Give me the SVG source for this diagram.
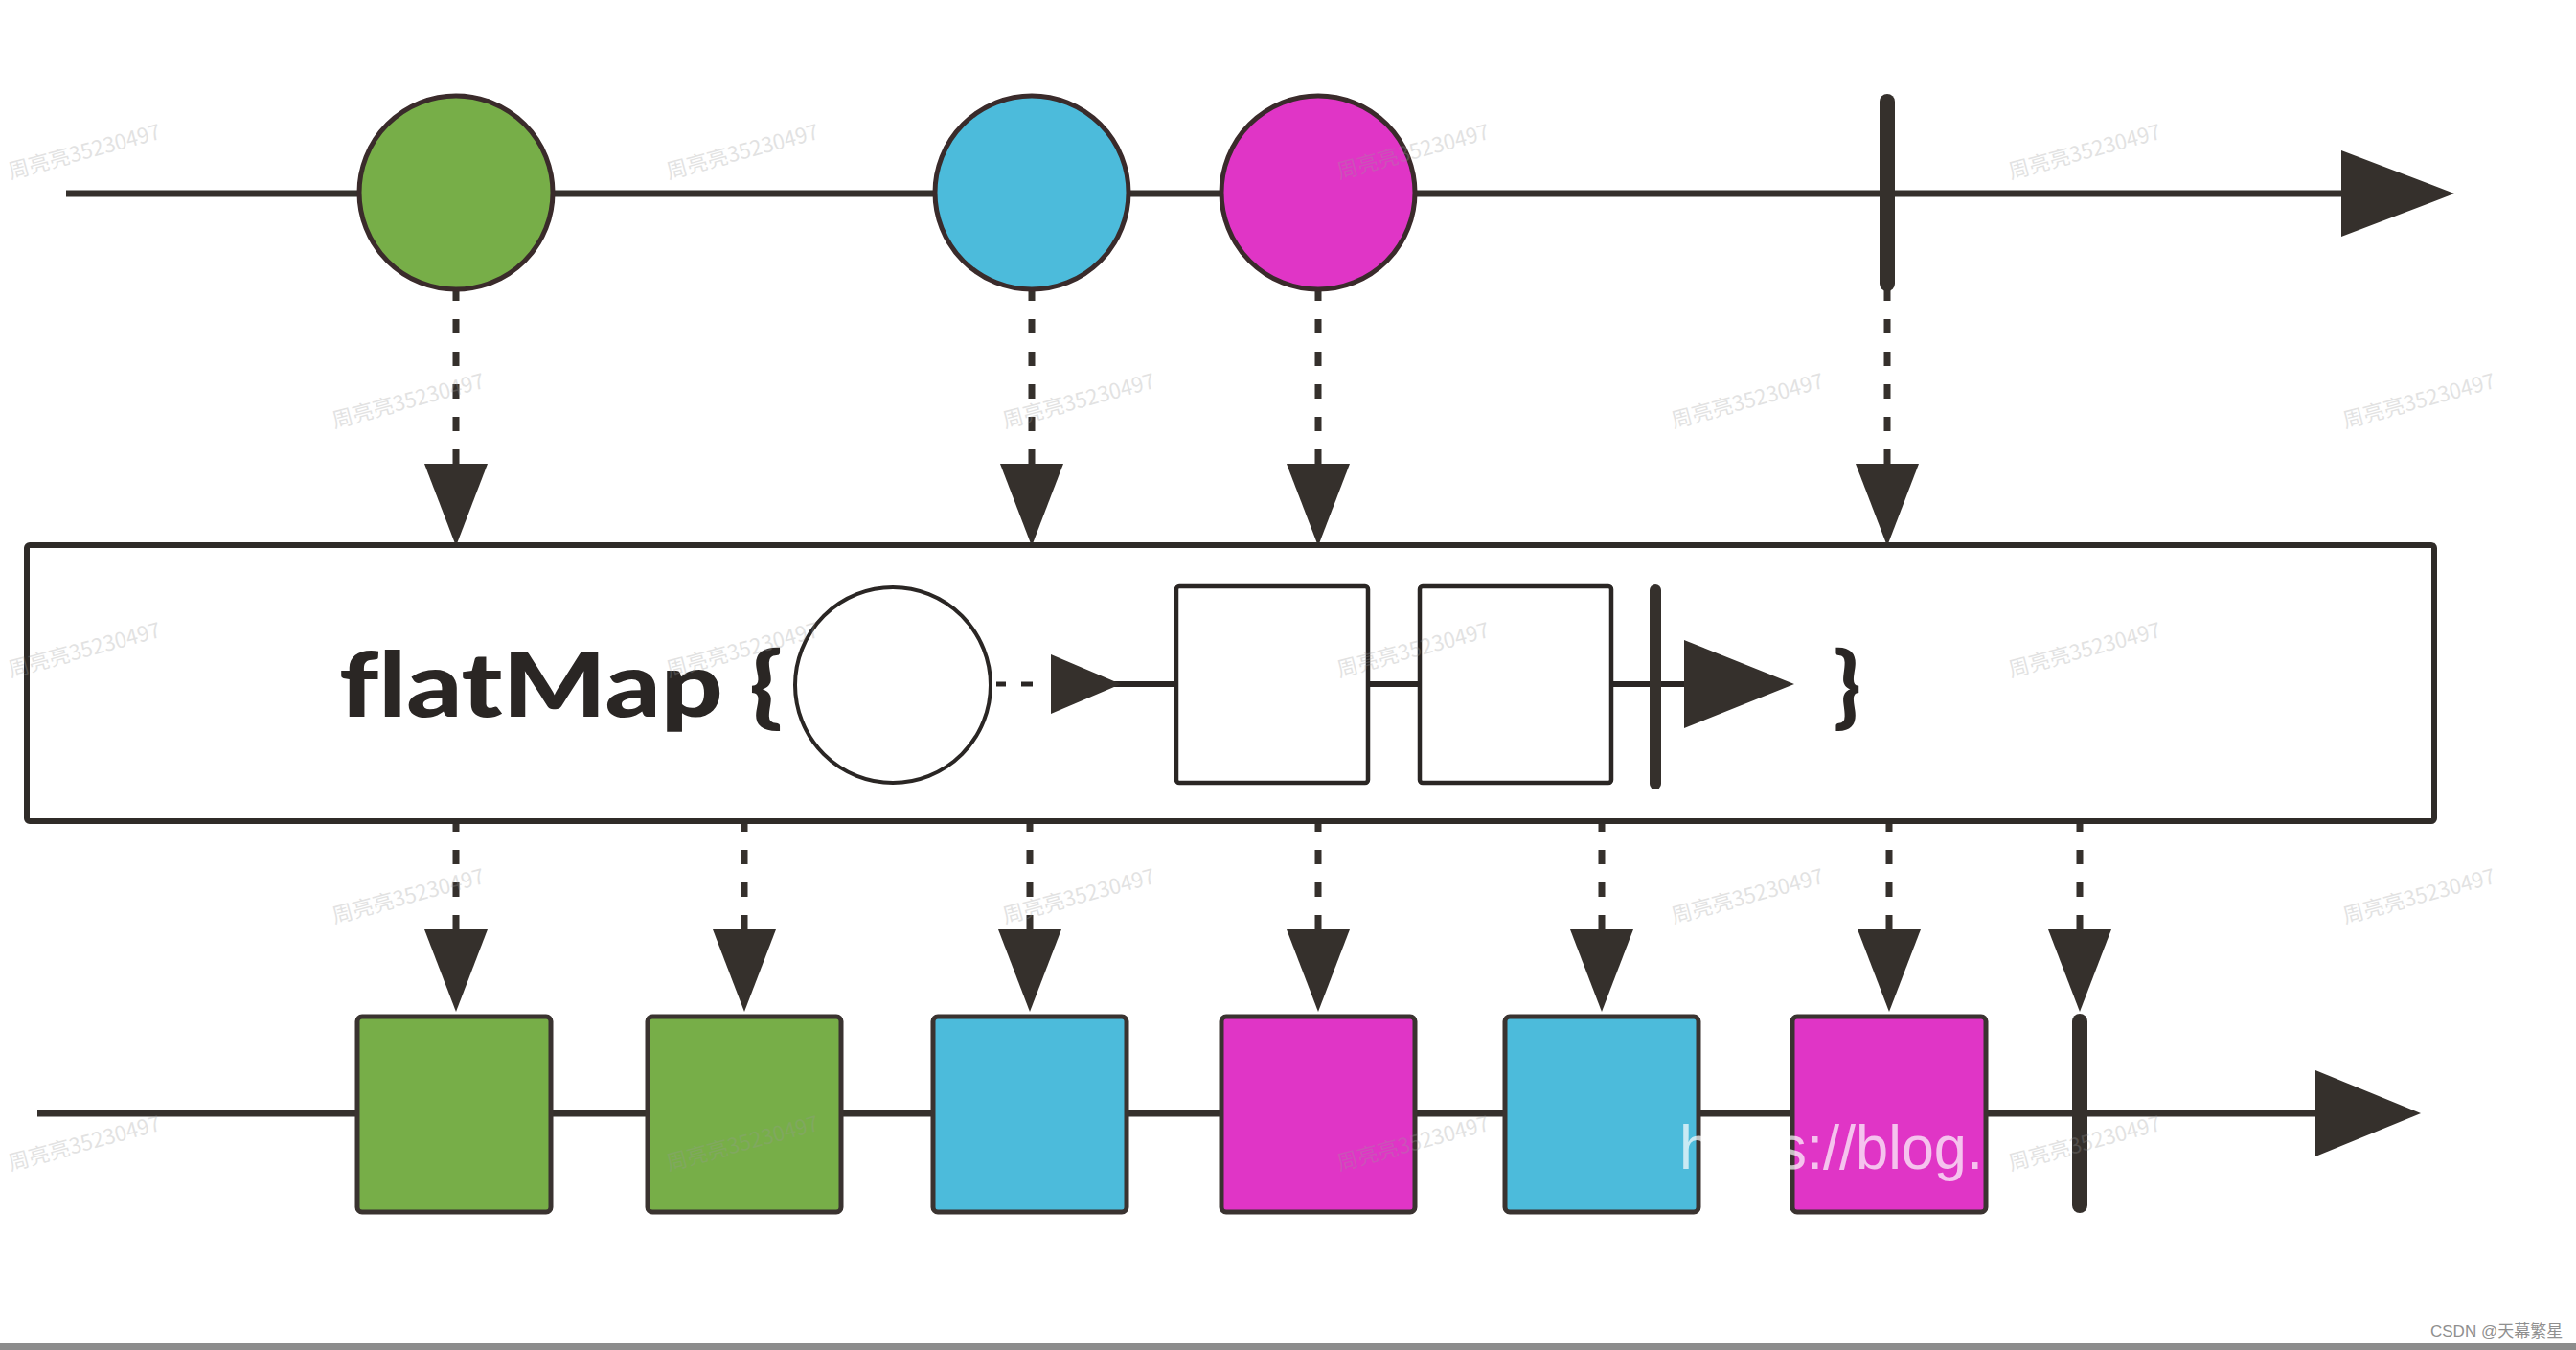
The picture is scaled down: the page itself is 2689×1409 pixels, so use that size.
<svg xmlns="http://www.w3.org/2000/svg" width="2689" height="1409" viewBox="0 0 2689 1409">
<style>
.tl{stroke:#35302c;stroke-width:7;fill:none}
.dash{stroke:#35302c;stroke-width:7;stroke-dasharray:15 19;fill:none;marker-end:url(#arr)}
.head{fill:#35302c}
.circ{stroke:#3a2b2b;stroke-width:5}
.sq{stroke:#3a3330;stroke-width:5}
.term{fill:#35302c}
.green{fill:#77ae48}
.blue{fill:#4cbbdb}
.mag{fill:#e035c6}
.big{font-family:Lato,"Open Sans","Liberation Sans",sans-serif;font-weight:900;font-size:93px;fill:#2a2624;font-variant-ligatures:none;font-feature-settings:"liga" 0}
.wm{font-family:"Noto Sans CJK SC","Liberation Sans",sans-serif;font-size:22px;fill:#9a9a9a;opacity:0.28}
</style>
<defs>
<marker id="arr" markerUnits="userSpaceOnUse" viewBox="0 -34 86 68" refX="0" refY="0" markerWidth="86" markerHeight="68" orient="auto">
<path d="M0,-33 L86,0 L0,33 Z" fill="#35302c"/>
</marker>
</defs>
<rect x="0" y="0" width="2689" height="1409" fill="#ffffff"/>

<g id="top-timeline">
<line class="tl" x1="69" y1="202" x2="2450" y2="202"/>
<polygon class="head" points="2444,157 2562,202 2444,247"/>
</g>
<g id="bottom-timeline">
<line class="tl" x1="39" y1="1162" x2="2420" y2="1162"/>
<polygon class="head" points="2417,1117 2527,1162 2417,1207"/>
</g>

<g id="connectors">
<line class="dash" x1="476" y1="299" x2="476" y2="484"/>
<line class="dash" x1="1077" y1="299" x2="1077" y2="484"/>
<line class="dash" x1="1376" y1="299" x2="1376" y2="484"/>
<line class="dash" x1="1970" y1="299" x2="1970" y2="484"/>
<line class="dash" x1="476" y1="853" x2="476" y2="970"/>
<line class="dash" x1="777" y1="853" x2="777" y2="970"/>
<line class="dash" x1="1075" y1="853" x2="1075" y2="970"/>
<line class="dash" x1="1376" y1="853" x2="1376" y2="970"/>
<line class="dash" x1="1672" y1="853" x2="1672" y2="970"/>
<line class="dash" x1="1972" y1="853" x2="1972" y2="970"/>
<line class="dash" x1="2171" y1="853" x2="2171" y2="970"/>
</g>

<g id="in-green"><circle class="circ green" cx="476" cy="201" r="101"/></g>
<g id="in-blue"><circle class="circ blue" cx="1077" cy="201" r="101"/></g>
<g id="in-magenta"><circle class="circ mag" cx="1376" cy="201" r="101"/></g>
<g id="in-complete"><rect class="term" x="1962" y="98" width="16" height="206" rx="8"/></g>

<g id="flatmap-box">
<rect x="28" y="569" width="2513" height="288" rx="3" fill="#ffffff" stroke="#2f2b28" stroke-width="6"/>
<text class="big" x="354" y="748" textLength="463" lengthAdjust="spacingAndGlyphs">flatMap {</text>
<circle cx="932" cy="715" r="102" fill="#ffffff" stroke="#2a2624" stroke-width="4"/>
<line x1="1040" y1="714" x2="1050" y2="714" stroke="#2a2624" stroke-width="5"/>
<line x1="1066" y1="714" x2="1078" y2="714" stroke="#2a2624" stroke-width="5"/>
<line x1="1150" y1="714" x2="1760" y2="714" stroke="#2a2624" stroke-width="6"/>
<polygon class="head" points="1097,683 1170,714 1097,745"/>
<rect x="1228" y="612" width="200" height="205" rx="3" fill="#ffffff" stroke="#2a2624" stroke-width="4.5"/>
<rect x="1482" y="612" width="200" height="205" rx="3" fill="#ffffff" stroke="#2a2624" stroke-width="4.5"/>
<rect class="term" x="1722" y="610" width="12" height="214" rx="6"/>
<polygon class="head" points="1758,668 1873,714 1758,760"/>
<text class="big" x="1914" y="748">}</text>
</g>

<g id="out-green-1"><rect class="sq green" x="373" y="1061" width="202" height="204" rx="5"/></g>
<g id="out-green-2"><rect class="sq green" x="676" y="1061" width="202" height="204" rx="5"/></g>
<g id="out-blue-1"><rect class="sq blue" x="974" y="1061" width="202" height="204" rx="5"/></g>
<g id="out-magenta-1"><rect class="sq mag" x="1275" y="1061" width="202" height="204" rx="5"/></g>
<g id="out-blue-2"><rect class="sq blue" x="1571" y="1061" width="202" height="204" rx="5"/></g>
<g id="out-magenta-2"><rect class="sq mag" x="1871" y="1061" width="202" height="204" rx="5"/></g>
<g id="out-complete"><rect class="term" x="2163" y="1058" width="16" height="208" rx="8"/></g>

<text x="1753" y="1220" font-family="'Liberation Sans', Arial, sans-serif" font-size="64" fill="#ffffff" opacity="0.7" textLength="317" lengthAdjust="spacingAndGlyphs">https://blog.</text>

<g id="watermarks">
<text class="wm" transform="translate(88,158) rotate(-15)" text-anchor="middle" dy="8">周亮亮35230497</text>
<text class="wm" transform="translate(775,158) rotate(-15)" text-anchor="middle" dy="8">周亮亮35230497</text>
<text class="wm" transform="translate(1475,158) rotate(-15)" text-anchor="middle" dy="8">周亮亮35230497</text>
<text class="wm" transform="translate(2176,158) rotate(-15)" text-anchor="middle" dy="8">周亮亮35230497</text>
<text class="wm" transform="translate(426,418) rotate(-15)" text-anchor="middle" dy="8">周亮亮35230497</text>
<text class="wm" transform="translate(1126,418) rotate(-15)" text-anchor="middle" dy="8">周亮亮35230497</text>
<text class="wm" transform="translate(1824,418) rotate(-15)" text-anchor="middle" dy="8">周亮亮35230497</text>
<text class="wm" transform="translate(2525,418) rotate(-15)" text-anchor="middle" dy="8">周亮亮35230497</text>
<text class="wm" transform="translate(88,678) rotate(-15)" text-anchor="middle" dy="8">周亮亮35230497</text>
<text class="wm" transform="translate(775,678) rotate(-15)" text-anchor="middle" dy="8">周亮亮35230497</text>
<text class="wm" transform="translate(1475,678) rotate(-15)" text-anchor="middle" dy="8">周亮亮35230497</text>
<text class="wm" transform="translate(2176,678) rotate(-15)" text-anchor="middle" dy="8">周亮亮35230497</text>
<text class="wm" transform="translate(426,935) rotate(-15)" text-anchor="middle" dy="8">周亮亮35230497</text>
<text class="wm" transform="translate(1126,935) rotate(-15)" text-anchor="middle" dy="8">周亮亮35230497</text>
<text class="wm" transform="translate(1824,935) rotate(-15)" text-anchor="middle" dy="8">周亮亮35230497</text>
<text class="wm" transform="translate(2525,935) rotate(-15)" text-anchor="middle" dy="8">周亮亮35230497</text>
<text class="wm" transform="translate(88,1193) rotate(-15)" text-anchor="middle" dy="8">周亮亮35230497</text>
<text class="wm" transform="translate(775,1193) rotate(-15)" text-anchor="middle" dy="8">周亮亮35230497</text>
<text class="wm" transform="translate(1475,1193) rotate(-15)" text-anchor="middle" dy="8">周亮亮35230497</text>
<text class="wm" transform="translate(2176,1193) rotate(-15)" text-anchor="middle" dy="8">周亮亮35230497</text>
</g>

<text x="2537" y="1395" font-family="'Liberation Sans','Noto Sans CJK SC',sans-serif" font-size="17" fill="#8f8f8f">CSDN @天幕繁星</text>
<rect x="0" y="1402" width="2689" height="7" fill="#8c8c8c"/>
</svg>
